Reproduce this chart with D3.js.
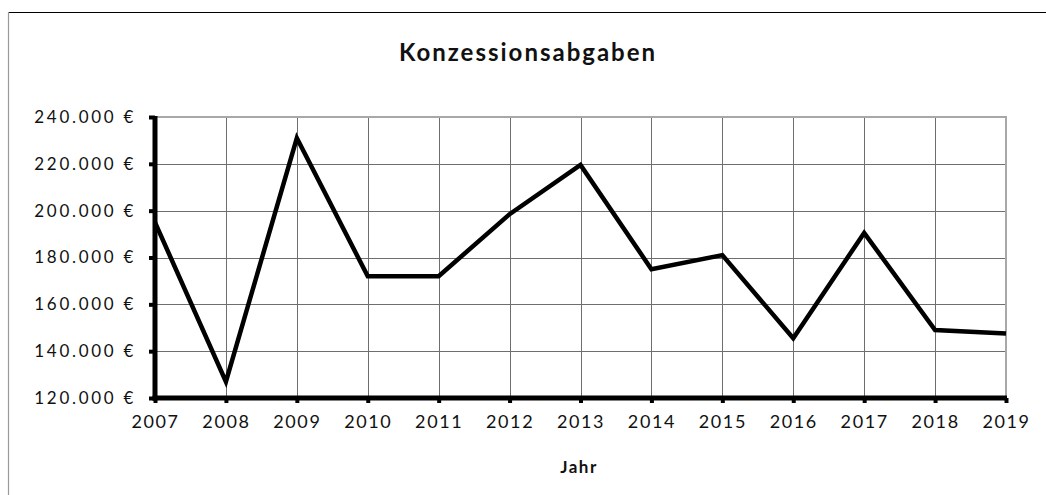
<!DOCTYPE html>
<html>
<head>
<meta charset="utf-8">
<script src="https://cdn.jsdelivr.net/npm/d3@7"></script>
<style>
  body { margin: 0; background: #fff; }
  svg text { font-family: Lato, "Noto Sans", sans-serif; fill: #111; }
</style>
</head>
<body>
<svg id="chart" width="1046" height="495"></svg>
<script>
// chart data
var years = [2007, 2008, 2009, 2010, 2011, 2012, 2013, 2014, 2015, 2016, 2017, 2018, 2019];
var values = [195000, 127000, 231000, 172000, 172000, 198500, 219500, 175000, 181000, 145500, 190500, 149000, 147500];
var yTicks = [120000, 140000, 160000, 180000, 200000, 220000, 240000];
var title = "Konzessionsabgaben";
var xTitle = "Jahr";

// size and margins of the plot area
var width = 1046, height = 495;
var margin = { left: 155, right: 40, top: 117, bottom: 97 };

var svg = d3.select("#chart");

// outer frame (top black, left gray)
svg.append("line").attr("x1", 8).attr("x2", width).attr("y1", 12.5).attr("y2", 12.5)
  .attr("stroke", "#000").attr("stroke-width", 1.2);
svg.append("line").attr("x1", 8.5).attr("x2", 8.5).attr("y1", 12).attr("y2", height)
  .attr("stroke", "#9a9a9a").attr("stroke-width", 1.2);

var x = d3.scaleLinear()
  .domain([years[0], years[years.length - 1]])
  .range([margin.left, width - margin.right]);
var y = d3.scaleLinear()
  .domain([120000, 240000])
  .range([height - margin.bottom, margin.top]);

var fmt = function(v) { return d3.format(",")(v).replace(/,/g, ".") + " €"; };

// grid lines
var grid = svg.append("g");
grid.selectAll("line.h").data(yTicks.slice(1, -1)).join("line")
  .attr("class", "h")
  .attr("x1", x.range()[0]).attr("x2", x.range()[1])
  .attr("y1", function(d) { return Math.round(y(d)) + 0.5; })
  .attr("y2", function(d) { return Math.round(y(d)) + 0.5; })
  .attr("stroke", "#6e6e6e").attr("stroke-width", 1);
grid.selectAll("line.v").data(years.slice(1, -1)).join("line")
  .attr("class", "v")
  .attr("x1", function(d) { return Math.round(x(d)) + 0.5; })
  .attr("x2", function(d) { return Math.round(x(d)) + 0.5; })
  .attr("y1", y.range()[1]).attr("y2", y.range()[0])
  .attr("stroke", "#6e6e6e").attr("stroke-width", 1);
// plot area border top / right
grid.append("path")
  .attr("d", "M" + x.range()[0] + "," + y(240000) + "H" + x.range()[1] + "V" + y(120000))
  .attr("fill", "none").attr("stroke", "#a8a8a8").attr("stroke-width", 2);

// data line
var line = d3.line()
  .x(function(d, i) { return x(years[i]); })
  .y(function(d) { return y(d); });
svg.append("path")
  .datum(values)
  .attr("d", line)
  .attr("fill", "none")
  .attr("stroke", "#000")
  .attr("stroke-width", 4.5)
  .attr("stroke-linejoin", "miter");

// axes
var yAxis = d3.axisLeft(y).tickValues(yTicks).tickSize(6).tickPadding(13).tickFormat(fmt);
var xAxis = d3.axisBottom(x).tickValues(years).tickSize(5).tickPadding(12).tickFormat(d3.format("d"));

var gy = svg.append("g").attr("transform", "translate(" + x.range()[0] + ",0)").call(yAxis);
var gx = svg.append("g").attr("transform", "translate(0," + y.range()[0] + ")").call(xAxis);

[gy, gx].forEach(function(g) {
  g.select(".domain").attr("stroke", "#000").attr("stroke-width", 5);
  g.selectAll(".tick line").attr("stroke", "#000").attr("stroke-width", 4);
});
gy.select(".domain").attr("d", "M0," + (y.range()[1] - 1) + "V" + (y.range()[0] + 2.5));
gx.select(".domain").attr("d", "M" + (x.range()[0] - 2.5) + ",0H" + (x.range()[1] + 1));

gy.selectAll(".tick text")
  .style("font-size", "17px").style("letter-spacing", "2.7px")
  .attr("fill", "#111");
gx.selectAll(".tick text")
  .style("font-size", "18px").style("letter-spacing", "1.6px")
  .attr("fill", "#111");

// titles
svg.append("text")
  .attr("x", 528).attr("y", 61)
  .attr("text-anchor", "middle")
  .style("font-size", "24px").style("font-weight", "bold").style("letter-spacing", "2px")
  .text(title);
svg.append("text")
  .attr("x", 579).attr("y", 473)
  .attr("text-anchor", "middle")
  .style("font-size", "17px").style("font-weight", "bold").style("letter-spacing", "1.5px")
  .text(xTitle);
</script>
</body>
</html>
